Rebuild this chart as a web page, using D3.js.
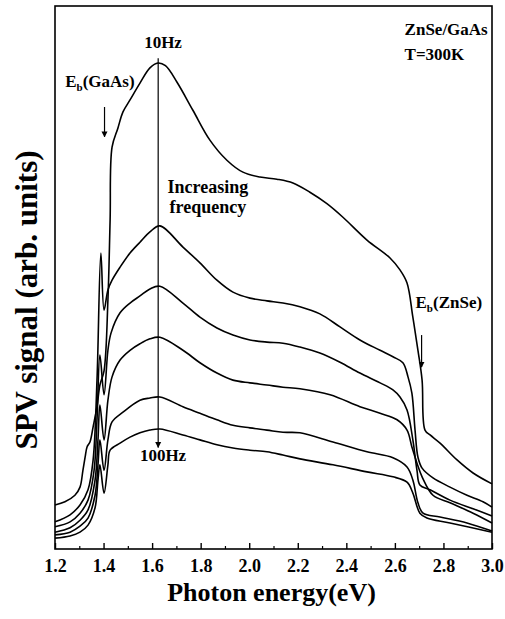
<!DOCTYPE html>
<html>
<head>
<meta charset="utf-8">
<script src="https://cdn.jsdelivr.net/npm/d3@7"></script>
<style>
  body { margin: 0; background: #fff; }
  text { font-family: "Liberation Serif", "Times New Roman", serif; font-weight: bold; fill: #000; }
</style>
</head>
<body>
<svg id="chart" width="505" height="619"></svg>
<script>
// SPV spectra, 10 Hz (top) down to 100 Hz (bottom), [eV, arb. units]
const spv10 = [[1.200,8.1],[1.241,8.7],[1.282,9.9],[1.303,11.4],[1.315,14.5],[1.324,16.9],[1.332,18.8],[1.344,19.7],[1.357,22.5],[1.373,26.2],[1.385,30.2],[1.402,32.8],[1.418,45.9],[1.427,60.6],[1.435,74.0],[1.459,77.5],[1.480,80.5],[1.509,82.7],[1.550,85.8],[1.591,88.6],[1.624,89.5],[1.655,89.0],[1.702,86.0],[1.768,80.8],[1.838,75.3],[1.908,71.6],[1.974,69.4],[2.044,68.5],[2.114,68.1],[2.180,67.4],[2.250,65.7],[2.320,63.6],[2.386,61.1],[2.485,56.9],[2.580,53.6],[2.621,51.4],[2.650,49.0],[2.674,42.7],[2.695,36.6],[2.712,31.1],[2.724,21.9],[2.745,21.0],[2.786,19.5],[2.856,16.4],[2.922,14.0],[3.000,12.0]];
const spv2 = [[1.200,5.0],[1.262,6.3],[1.303,8.1],[1.336,10.9],[1.357,16.4],[1.373,31.1],[1.389,54.5],[1.402,44.0],[1.418,47.7],[1.435,49.5],[1.468,51.9],[1.509,54.5],[1.550,56.5],[1.591,58.4],[1.632,59.5],[1.727,55.6],[1.797,52.7],[1.867,49.5],[1.933,47.3],[2.003,46.2],[2.073,45.7],[2.139,45.3],[2.209,44.6],[2.291,43.3],[2.374,40.9],[2.456,38.5],[2.539,36.6],[2.592,35.4],[2.633,34.3],[2.654,31.7],[2.670,28.7],[2.683,21.9],[2.695,16.9],[2.712,14.9],[2.757,13.1],[2.827,11.4],[2.897,9.9],[2.963,8.7],[3.000,7.7]];
const spv3 = [[1.200,4.1],[1.262,5.0],[1.303,6.6],[1.336,9.0],[1.361,14.5],[1.373,23.8],[1.385,35.7],[1.402,28.4],[1.418,36.6],[1.431,39.8],[1.468,43.5],[1.509,45.3],[1.550,46.6],[1.591,47.9],[1.632,48.4],[1.727,45.3],[1.797,42.7],[1.867,40.7],[1.933,39.4],[2.003,38.5],[2.073,38.1],[2.139,37.9],[2.209,37.2],[2.291,36.1],[2.374,34.4],[2.456,32.4],[2.539,30.6],[2.592,29.3],[2.621,28.0],[2.650,25.6],[2.674,20.1],[2.691,14.5],[2.703,11.8],[2.745,10.9],[2.827,9.0],[2.922,7.4],[3.000,6.1]];
const spv4 = [[1.200,3.1],[1.262,3.9],[1.303,5.3],[1.336,7.2],[1.365,12.7],[1.377,20.1],[1.385,26.5],[1.402,20.1],[1.418,27.4],[1.435,31.7],[1.468,34.8],[1.509,36.6],[1.550,37.8],[1.591,38.7],[1.632,39.0],[1.727,36.6],[1.797,34.3],[1.867,32.4],[1.933,31.1],[2.003,30.6],[2.073,30.2],[2.139,29.8],[2.209,29.5],[2.333,28.4],[2.456,26.2],[2.539,25.0],[2.609,23.8],[2.650,21.9],[2.670,18.8],[2.691,15.8],[2.712,13.3],[2.757,9.9],[2.827,8.5],[2.922,6.6],[3.000,4.8]];
const spv5 = [[1.200,2.6],[1.262,3.1],[1.303,4.2],[1.336,5.7],[1.365,9.9],[1.377,15.5],[1.385,20.1],[1.402,14.5],[1.418,20.1],[1.435,23.4],[1.480,25.2],[1.550,27.4],[1.591,27.8],[1.632,28.0],[1.727,26.2],[1.797,25.0],[1.867,23.8],[1.933,22.8],[2.003,22.3],[2.073,21.9],[2.139,21.5],[2.209,21.4],[2.345,19.7],[2.485,17.9],[2.592,16.8],[2.650,15.1],[2.674,12.7],[2.695,8.5],[2.716,6.6],[2.786,5.9],[2.897,4.8],[3.000,3.3]];
const spv100 = [[1.200,2.0],[1.262,2.4],[1.303,3.1],[1.336,4.4],[1.365,7.6],[1.377,12.7],[1.385,15.5],[1.402,10.3],[1.418,15.5],[1.427,18.2],[1.468,19.5],[1.509,20.6],[1.550,21.4],[1.591,21.9],[1.632,22.1],[1.727,21.0],[1.797,20.1],[1.867,19.2],[1.933,18.6],[2.003,18.2],[2.073,17.9],[2.139,17.3],[2.209,16.6],[2.345,15.5],[2.485,14.2],[2.592,13.3],[2.650,12.3],[2.674,10.3],[2.703,6.6],[2.732,5.7],[2.827,4.8],[3.000,3.1]];
const spectra = [spv10, spv2, spv3, spv4, spv5, spv100];

const majorTicks = [1.2, 1.4, 1.6, 1.8, 2.0, 2.2, 2.4, 2.6, 2.8, 3.0];
const minorTicks = [1.3, 1.5, 1.7, 1.9, 2.1, 2.3, 2.5, 2.7, 2.9];

const svg = d3.select("#chart");
const margin = { top: 6, right: 13, bottom: 70, left: 55 };
const width = +svg.attr("width") - margin.left - margin.right;
const height = +svg.attr("height") - margin.top - margin.bottom;

const x = d3.scaleLinear().domain([1.2, 3.0]).range([0, width]);
const y = d3.scaleLinear().domain([0, 100]).range([height, 0]);

const g = svg.append("g").attr("transform", `translate(${margin.left},${margin.top})`);

// frame
g.append("rect")
  .attr("width", width).attr("height", height)
  .attr("fill", "none").attr("stroke", "#000").attr("stroke-width", 1.6);

// inward ticks on the bottom axis
const xAxis = d3.axisBottom(x).tickValues(majorTicks).tickSize(-6).tickPadding(10)
  .tickFormat(d3.format(".1f"));
const ax = g.append("g").attr("transform", `translate(0,${height})`).call(xAxis);
ax.select(".domain").remove();
ax.selectAll("line").attr("stroke-width", 1.4);
ax.selectAll("text").style("font-size", "18px");

const minor = g.append("g").attr("transform", `translate(0,${height})`)
  .call(d3.axisBottom(x).tickValues(minorTicks).tickSize(-3).tickFormat(""));
minor.select(".domain").remove();
minor.selectAll("line").attr("stroke-width", 1.2);

// spectra
const line = d3.line().x(d => x(d[0])).y(d => y(d[1])).curve(d3.curveCatmullRom.alpha(0.5));
g.selectAll(".spv").data(spectra).join("path")
  .attr("class", "spv")
  .attr("d", line)
  .attr("fill", "none").attr("stroke", "#000").attr("stroke-width", 1.6);

// arrows
svg.append("defs").append("marker")
  .attr("id", "head").attr("viewBox", "0 0 10 10")
  .attr("refX", 9).attr("refY", 5)
  .attr("markerWidth", 5).attr("markerHeight", 8)
  .attr("orient", "auto")
  .append("path").attr("d", "M0,0 L10,5 L0,10 z").attr("fill", "#000");

function arrow(x0, y0, y1) {
  g.append("line")
    .attr("x1", x(x0)).attr("x2", x(x0))
    .attr("y1", y(y0)).attr("y2", y(y1))
    .attr("stroke", "#000").attr("stroke-width", 1.2)
    .attr("marker-end", "url(#head)");
}
arrow(1.625, 90.4, 18.7);   // 10 Hz -> 100 Hz
arrow(1.404, 81.4, 75.9);   // Eb(GaAs)
arrow(2.710, 39.4, 33.5);   // Eb(ZnSe)

// annotations
function label(xv, yv, txt, size, anchor) {
  return g.append("text")
    .attr("x", x(xv)).attr("y", y(yv))
    .attr("text-anchor", anchor || "middle")
    .style("font-size", size + "px")
    .text(txt);
}
label(1.645, 92.2, "10Hz", 17);
label(1.645, 16.2, "100Hz", 17);
label(1.830, 65.6, "Increasing", 18);
label(1.830, 61.9, "frequency", 18);
label(2.64, 94.7, "ZnSe/GaAs", 17, "start");
label(2.64, 90.0, "T=300K", 17, "start");

const eg = label(1.242, 85.0, "E", 17, "start");
eg.append("tspan").attr("dy", 4).style("font-size", "11px").text("b");
eg.append("tspan").attr("dy", -4).text("(GaAs)");

const ez = label(2.685, 44.4, "E", 17, "start");
ez.append("tspan").attr("dy", 4).style("font-size", "11px").text("b");
ez.append("tspan").attr("dy", -4).text("(ZnSe)");

// axis titles
svg.append("text")
  .attr("x", margin.left + width / 2 - 2).attr("y", 601)
  .attr("text-anchor", "middle")
  .style("font-size", "26px")
  .text("Photon energy(eV)");

svg.append("text")
  .attr("transform", `translate(37,${margin.top + 294}) rotate(-90)`)
  .attr("text-anchor", "middle")
  .style("font-size", "31px")
  .text("SPV signal (arb. units)");
</script>
</body>
</html>
